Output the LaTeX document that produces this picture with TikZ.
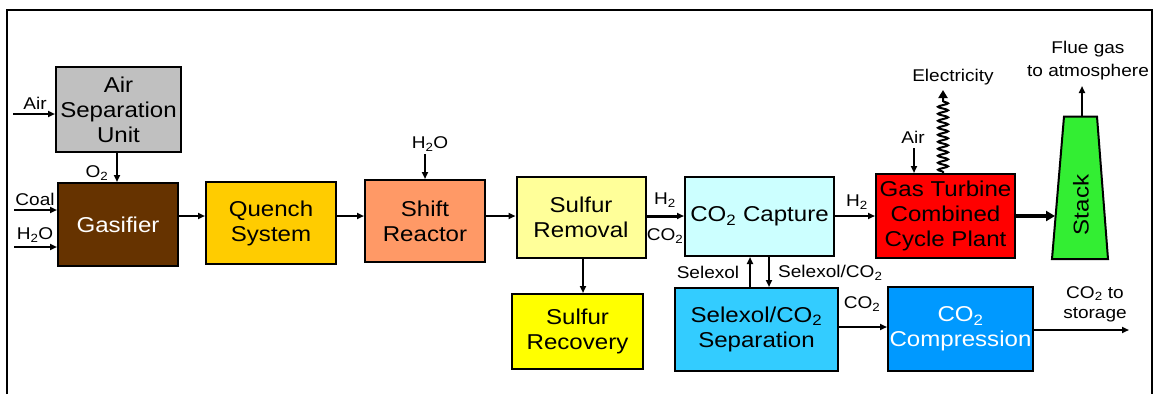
\documentclass[tikz,border=0pt]{standalone}
\usepackage{fontspec}
\setmainfont{Liberation Sans}[FakeStretch=1.12]
\usetikzlibrary{arrows.meta,decorations.pathmorphing}
\definecolor{asuC}{HTML}{C0C0C0}
\definecolor{gasC}{HTML}{663300}
\definecolor{quenchC}{HTML}{FFCC00}
\definecolor{shiftC}{HTML}{FF9966}
\definecolor{sremC}{HTML}{FFFF99}
\definecolor{srecC}{HTML}{FFFF00}
\definecolor{capC}{HTML}{CCFFFF}
\definecolor{sepC}{HTML}{33CCFF}
\definecolor{compC}{HTML}{0099FF}
\definecolor{gtccC}{HTML}{FF0000}
\definecolor{stackC}{HTML}{33EE33}
\begin{document}
\begin{tikzpicture}[x=1pt,y=-1pt,
  box/.style={draw=black, line width=2pt, align=center, inner sep=0pt,
    font=\fontsize{21.5}{25}\selectfont},
  lab/.style={inner sep=0pt, align=center, font=\fontsize{17}{19}\selectfont},
  arr/.style={line width=2pt, -{Triangle[length=7pt,width=6pt]}},
  thickarr/.style={line width=#1, -{Triangle[length=9pt,width=10pt]}},
  elec/.style={line width=2pt, decorate,
    decoration={snake, amplitude=5pt, segment length=7pt, pre length=1pt, post length=8pt},
    -{Triangle[length=8pt,width=9pt]}}
]
\useasboundingbox (0,0) rectangle (1154,394);
% frame
\draw[line width=2.5pt] (7,394) -- (7,10) -- (1152,10) -- (1152,394);

% boxes
\node[box, fill=asuC, minimum width=125pt, minimum height=85pt] (asu) at (118.5,109.5) {Air\\Separation\\Unit};
\node[box, fill=gasC, text=white, minimum width=120pt, minimum height=83pt] (gasifier) at (118,224.5) {Gasifier};
\node[box, fill=quenchC, minimum width=130pt, minimum height=82pt] (quench) at (271,223) {Quench\\System};
\node[box, fill=shiftC, minimum width=120pt, minimum height=82pt] (shift) at (425,221) {Shift\\Reactor};
\node[box, fill=sremC, minimum width=129pt, minimum height=81pt] (sulfrem) at (581,217) {Sulfur\\Removal};
\node[box, fill=srecC, minimum width=131pt, minimum height=75pt] (sulfrec) at (577.5,331.5) {Sulfur\\Recovery};
\node[box, fill=capC, minimum width=149pt, minimum height=79pt] (capture) at (759.5,216.5) {CO\textsubscript{2} Capture};
\node[box, fill=sepC, minimum width=163pt, minimum height=83pt] (selsep) at (756.5,329.5) {Selexol/CO\textsubscript{2}\\Separation};
\node[box, fill=compC, text=white, minimum width=145pt, minimum height=84pt] (compr) at (960.5,329) {CO\textsubscript{2}\\Compression};
\node[box, fill=gtccC, minimum width=139pt, minimum height=84pt] (gtcc) at (945.5,216) {Gas Turbine\\Combined\\Cycle Plant};

% stack
\draw[line width=2pt, fill=stackC] (1064,116.5) -- (1097,116.5) -- (1108,259) -- (1052,259) -- cycle;
\node[rotate=90, inner sep=0pt, font=\fontsize{21.5}{25}\selectfont] (stack) at (1081,205) {Stack};
\coordinate (stacktop) at (1082,116.5);
\coordinate (stackin) at (1055,216);

% labels
\node[lab] (lAir) at (35,103) {Air};
\node[lab] (lO2) at (97,173) {O\textsubscript{2}};
\node[lab] (lCoal) at (35,199) {Coal};
\node[lab] (lH2Oa) at (35,235) {H\textsubscript{2}O};
\node[lab] (lH2Ob) at (430,144) {H\textsubscript{2}O};
\node[lab] (lH2a) at (665,200) {H\textsubscript{2}};
\node[lab] (lCO2a) at (665,236) {CO\textsubscript{2}};
\node[lab] (lSelexol) at (708,272) {Selexol};
\node[lab, anchor=west] (lSelCO2) at (778,273) {Selexol/CO\textsubscript{2}};
\node[lab] (lCO2b) at (862,304) {CO\textsubscript{2}};
\node[lab, font=\fontsize{17}{20}\selectfont] (lStorage) at (1095,304) {CO\textsubscript{2} to\\storage};
\node[lab] (lH2b) at (857,202) {H\textsubscript{2}};
\node[lab] (lAirb) at (913,137) {Air};
\node[lab] (lElec) at (953,77) {Electricity};
\node[lab, font=\fontsize{17}{23}\selectfont] (lFlue) at (1088,61) {Flue gas\\to atmosphere};

% helper coordinates
\coordinate (airstart) at (13,114);
\coordinate (coalstart) at (14,210);
\coordinate (h2ostart) at (14,247);
\coordinate (row) at (0,216);
\coordinate (sepout) at (0,327);
\coordinate (storend) at (1129,330);
\coordinate (elecend) at (943,90);
\coordinate (flueend) at (1082,86);
\coordinate (xup) at (750,0);
\coordinate (xdn) at (769,0);
\coordinate (xo2) at (117,0);
\coordinate (xairb) at (914,0);
\coordinate (xsr) at (583,0);

% connectors
\draw[arr] (airstart) -- (airstart -| asu.west);
\draw[arr] (xo2 |- asu.south) -- (xo2 |- gasifier.north);
\draw[arr] (coalstart) -- (coalstart -| gasifier.west);
\draw[arr] (h2ostart) -- (h2ostart -| gasifier.west);
\draw[arr] (gasifier.east |- row) -- (quench.west |- row);
\draw[arr] (quench.east |- row) -- (shift.west |- row);
\draw[arr] ([yshift=-3pt]lH2Ob.south -| shift.north) -- (shift.north);
\draw[arr] (shift.east |- row) -- (sulfrem.west |- row);
\draw[arr, line width=3pt] (sulfrem.east |- row) -- (capture.west |- row);
\draw[arr, line width=2.5pt] (xsr |- sulfrem.south) -- (xsr |- sulfrec.north);
\draw[arr] (xup |- selsep.north) -- (xup |- capture.south);
\draw[arr] (xdn |- capture.south) -- (xdn |- selsep.north);
\draw[arr] (selsep.east |- sepout) -- (compr.west |- sepout);
\draw[arr] (compr.east |- storend) -- (storend);
\draw[arr, line width=2.5pt] (capture.east |- row) -- (gtcc.west |- row);
\draw[arr] ([yshift=-5pt]xairb |- lAirb.south) -- (xairb |- gtcc.north);
\draw[elec] (elecend |- gtcc.north) -- (elecend);
\draw[thickarr=4.5pt] (gtcc.east |- row) -- (stackin);
\draw[arr] (stacktop) -- (flueend);
\end{tikzpicture}
\end{document}
